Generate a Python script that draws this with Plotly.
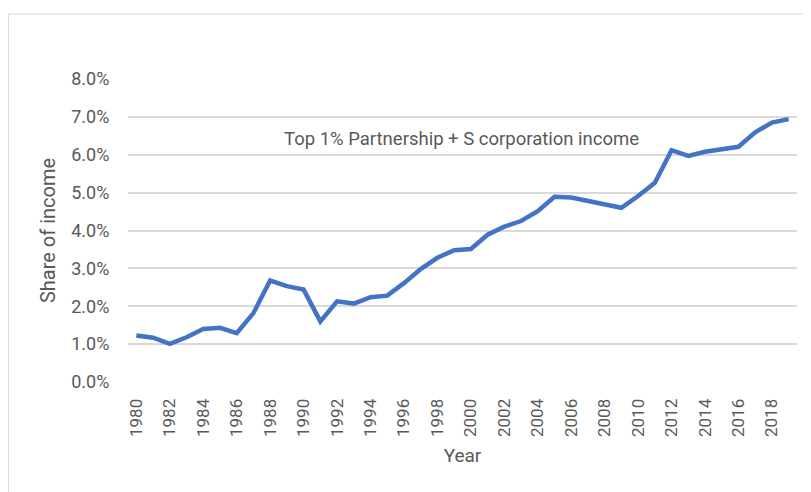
import plotly.graph_objects as go

years = list(range(1980, 2020))
share = [1.23, 1.17, 1.01, 1.18, 1.40, 1.43, 1.29, 1.82, 2.68, 2.53,
         2.44, 1.60, 2.13, 2.07, 2.24, 2.28, 2.61, 2.98, 3.28, 3.48,
         3.51, 3.89, 4.10, 4.25, 4.51, 4.89, 4.87, 4.78, 4.72, 4.60,
         4.91, 5.26, 6.12, 5.97, 6.08, 6.15, 6.21, 6.59, 6.85, 6.94]
year_ticks = list(range(1980, 2019, 2))
pct_ticks = [0, 1, 2, 3, 4, 5, 6, 7, 8]
pct_labels = [f"{v:.1f}%" for v in pct_ticks]

_TEXT = "#595959"
_GRID = "#D9D9D9"
_FONT = "Roboto, sans-serif"
_CLEAR = "rgba(0,0,0,0)"

fig = go.Figure()
fig.add_trace(go.Scatter(
    x=years, y=share, mode="lines",
    line=dict(color="#4472C4", width=4.5),
    showlegend=False, hoverinfo="x+y",
))

fig.add_annotation(
    x=0.499, y=0.802, xref="paper", yref="paper",
    text="Top 1% Partnership + S corporation income",
    showarrow=False, xanchor="center", yanchor="middle",
    font=dict(size=18.5, color=_TEXT),
)

# chart frame (light border at top and left of the picture)
fig.add_shape(type="line", xref="paper", yref="paper",
              x0=-0.18, x1=1.05, y0=1.2145, y1=1.2145,
              line=dict(color=_GRID, width=1))
fig.add_shape(type="line", xref="paper", yref="paper",
              x0=-0.1785, x1=-0.1785, y0=1.2145, y1=-0.4,
              line=dict(color=_GRID, width=1))

# page has an 8px body margin, so the figure is 8px smaller and margins shifted
fig.update_layout(
    width=803, height=484,
    paper_bgcolor="white", plot_bgcolor="white",
    margin=dict(l=120, r=14, t=71, b=110),
    font=dict(family=_FONT, color=_TEXT, size=15),
    xaxis=dict(
        range=[1979.5, 2019.5], tickvals=year_ticks,
        tickangle=-90, showgrid=False, zeroline=False,
        showline=False, ticks="outside", ticklen=9, tickcolor=_CLEAR,
        tickfont=dict(size=17, color=_TEXT),
        title=dict(text="Year", font=dict(size=19, color=_TEXT), standoff=12),
    ),
    yaxis=dict(
        range=[0, 8], tickvals=pct_ticks, ticktext=pct_labels,
        gridcolor=_GRID, gridwidth=1.5, zeroline=False, showline=False,
        ticks="outside", ticklen=14, tickcolor=_CLEAR,
        tickfont=dict(size=18, color=_TEXT),
        title=dict(text="Share of income",
                   font=dict(size=20, color=_TEXT), standoff=10),
    ),
)

fig.write_html("out.html")
